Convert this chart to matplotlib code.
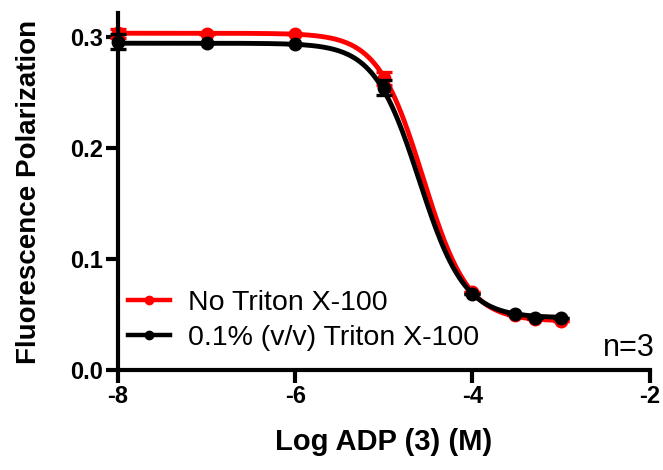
import numpy as np
import matplotlib.pyplot as plt

plt.rcParams['font.family'] = ['Liberation Sans', 'DejaVu Sans']

# log [ADP] (M) and measured polarization (mean, SEM)
log_adp = np.array([-8.0, -7.0, -6.0, -5.0, -4.0, -3.52, -3.3, -3.0])
fp_no_triton = np.array([0.3035, 0.303, 0.3025, 0.263, 0.0705, 0.0495, 0.046, 0.0445])
err_no_triton = np.array([0.004, 0.0, 0.0, 0.006, 0.0, 0.0, 0.0, 0.0])
fp_triton = np.array([0.296, 0.2945, 0.2935, 0.2545, 0.068, 0.0505, 0.047, 0.047])
err_triton = np.array([0.0065, 0.0, 0.0, 0.0065, 0.0, 0.0, 0.0, 0.0])

# four-parameter logistic fits (top, bottom, logIC50, hill)
fit_no_triton = [0.3035, 0.044, -4.56, 1.7]
fit_triton = [0.2945, 0.047, -4.60, 1.7]

labels = ['No Triton X-100', '0.1% (v/v) Triton X-100']
colors = ['#ff0000', '#000000']


def logistic(x, top, bottom, logic50, hill):
    return bottom + (top - bottom) / (1 + 10 ** ((x - logic50) * hill))


fig = plt.figure(figsize=(6.63, 4.70), dpi=100)
ax = fig.add_axes([0.178, 0.213, 0.802, 0.759])

xfit = np.linspace(log_adp.min(), log_adp.max(), 300)
handles = []
for y, e, p, c, lab, z in [(fp_no_triton, err_no_triton, fit_no_triton, colors[0], labels[0], 2),
                           (fp_triton, err_triton, fit_triton, colors[1], labels[1], 3)]:
    ax.plot(xfit, logistic(xfit, *p), color=c, lw=3.5, zorder=z, clip_on=False)
    ax.errorbar(log_adp, y, yerr=e, fmt='none', ecolor=c, elinewidth=2.4,
                capsize=6, capthick=2.4, zorder=z, clip_on=False)
    ax.plot(log_adp, y, 'o', color=c, ms=9, zorder=z, clip_on=False)
    h, = ax.plot([], [], '-o', color=c, lw=3.2, ms=6, label=lab)
    handles.append(h)

ax.set_xlim(-8, -2)
ax.set_ylim(0, 0.3216)
ax.set_xticks([-8, -6, -4, -2])
ax.set_xticklabels(['-8', '-6', '-4', '-2'])
ax.set_yticks([0.0, 0.1, 0.2, 0.3])
ax.set_yticklabels(['0.0', '0.1', '0.2', '0.3'])

for s in ['top', 'right']:
    ax.spines[s].set_visible(False)
for s in ['left', 'bottom']:
    ax.spines[s].set_linewidth(3)
ax.tick_params(width=3, length=9, labelsize=17, pad=2)
for t in ax.get_xticklabels() + ax.get_yticklabels():
    t.set_fontweight('bold')

ax.set_xlabel('Log ADP (3) (M)', fontsize=21, fontweight='bold', labelpad=14)
ax.set_ylabel('Fluorescence Polarization', fontsize=20, fontweight='bold', labelpad=20)

ax.legend(handles=handles, loc='lower left', bbox_to_anchor=(-0.003, 0.02),
          frameon=False, fontsize=20.5, handlelength=1.47, handletextpad=0.65,
          labelspacing=0.33, borderaxespad=0.0)
ax.text(1.01, 0.04, 'n=3', transform=ax.transAxes, ha='right', va='baseline', fontsize=22)

fig.savefig('out.png', dpi=100)
